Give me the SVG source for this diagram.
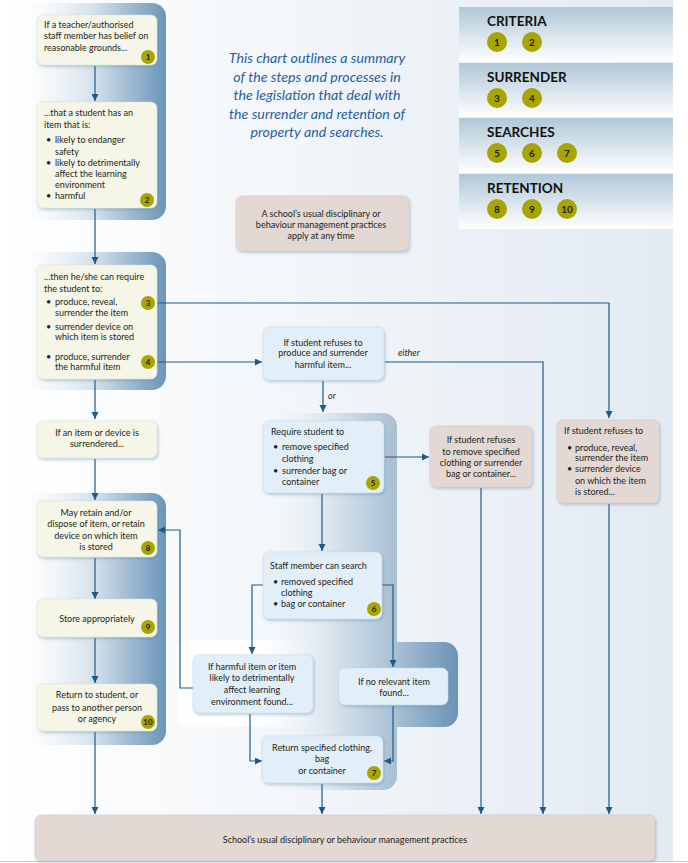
<svg xmlns="http://www.w3.org/2000/svg" width="688" height="863" viewBox="0 0 688 863">
<defs>
<linearGradient id="bg" x1="0" y1="0" x2="1" y2="0">
<stop offset="0" stop-color="#ffffff"/>
<stop offset="1" stop-color="#e2eaf2"/>
</linearGradient>
<linearGradient id="pnl" x1="0" y1="0" x2="1" y2="0">
<stop offset="0" stop-color="#ffffff" stop-opacity="0"/>
<stop offset="0.55" stop-color="#d3e0ea"/>
<stop offset="1" stop-color="#6a95b9"/>
</linearGradient>
<linearGradient id="pnlMid" gradientUnits="userSpaceOnUse" x1="250" y1="0" x2="460" y2="0">
<stop offset="0" stop-color="#ffffff" stop-opacity="0"/>
<stop offset="0.45" stop-color="#cfdde8"/>
<stop offset="0.7" stop-color="#a7bfd2"/>
<stop offset="1" stop-color="#6892b6"/>
</linearGradient>
<linearGradient id="wht" x1="0" y1="0" x2="1" y2="0">
<stop offset="0" stop-color="#ffffff"/>
<stop offset="0.6" stop-color="#ffffff"/>
<stop offset="1" stop-color="#ffffff" stop-opacity="0"/>
</linearGradient>
<linearGradient id="band" x1="0" y1="0" x2="0" y2="1">
<stop offset="0" stop-color="#b0c8d8"/>
<stop offset="1" stop-color="#ffffff"/>
</linearGradient>
<filter id="sh" x="-10%" y="-10%" width="125%" height="130%">
<feDropShadow dx="1" dy="1.5" stdDeviation="1.5" flood-color="#5f86a8" flood-opacity="0.45"/>
</filter>
<marker id="ah" markerUnits="userSpaceOnUse" markerWidth="8" markerHeight="8" refX="7" refY="3.5" orient="auto">
<path d="M0,0 L7,3.5 L0,7 z" fill="#1d5a8c"/>
</marker>
<style>
.t{font-family:Lato,"Liberation Sans",sans-serif;font-size:9px;fill:#231f20}
.c{text-anchor:middle}
.cream{fill:#f5f6e7;stroke:#dfe3d0;stroke-width:0.5;filter:url(#sh)}
.blue{fill:#e2eef8;stroke:#c9dbe9;stroke-width:0.5;filter:url(#sh)}
.beige{fill:#e3d8d3;stroke:#d3c6c0;stroke-width:0.5;filter:url(#sh)}
.bd{fill:#a8a400}
.bt{font-family:Lato,"Liberation Sans",sans-serif;font-size:8px;font-weight:bold;fill:#1f1f10;text-anchor:middle}
.lbt{font-family:Lato,"Liberation Sans",sans-serif;font-size:10px;font-weight:bold;fill:#1f1f10;text-anchor:middle}
.lt{font-family:Lato,"Liberation Sans",sans-serif;font-size:13.5px;font-weight:bold;fill:#111}
.it{font-family:Lato,"Liberation Sans",sans-serif;font-size:14.2px;font-style:italic;fill:#1f5ea3;text-anchor:middle}
.ln{fill:none;stroke:#1d5a8c;stroke-width:1.2}
</style>
</defs>

<rect x="0" y="0" width="673" height="861" fill="url(#bg)"/>
<line x1="0" y1="861.5" x2="688" y2="861.5" stroke="#c8c8c8" stroke-width="1"/>

<g id="panels">
<rect x="8" y="3" width="158" height="217" rx="14" fill="url(#pnl)"/>
<rect x="8" y="252" width="158" height="138" rx="14" fill="url(#pnl)"/>
<rect x="8" y="493" width="158" height="252" rx="14" fill="url(#pnl)"/>
<rect x="177" y="640" width="150" height="87" rx="12" fill="url(#wht)" opacity="0.9"/>
<path d="M250,413 H383 A14,14 0 0 1 397,427 V642 H444 A14,14 0 0 1 458,656 V713 A14,14 0 0 1 444,727 H397 V776 A14,14 0 0 1 383,790 H250 Z" fill="url(#pnlMid)"/>
</g>

<g id="legend">
<rect x="459" y="7" width="214" height="55" fill="url(#band)"/>
<rect x="459" y="63" width="214" height="54" fill="url(#band)"/>
<rect x="459" y="118" width="214" height="55" fill="url(#band)"/>
<rect x="459" y="174" width="214" height="55" fill="url(#band)"/>
<text class="lt" x="487" y="26">CRITERIA</text>
<text class="lt" x="487" y="82">SURRENDER</text>
<text class="lt" x="487" y="137">SEARCHES</text>
<text class="lt" x="487" y="193">RETENTION</text>
<circle class="bd" cx="497" cy="42" r="10"/><text class="lbt" x="497" y="45.5">1</text>
<circle class="bd" cx="532" cy="42" r="10"/><text class="lbt" x="532" y="45.5">2</text>
<circle class="bd" cx="497" cy="98" r="10"/><text class="lbt" x="497" y="101.5">3</text>
<circle class="bd" cx="532" cy="98" r="10"/><text class="lbt" x="532" y="101.5">4</text>
<circle class="bd" cx="497" cy="153" r="10"/><text class="lbt" x="497" y="156.5">5</text>
<circle class="bd" cx="532" cy="153" r="10"/><text class="lbt" x="532" y="156.5">6</text>
<circle class="bd" cx="567" cy="153" r="10"/><text class="lbt" x="567" y="156.5">7</text>
<circle class="bd" cx="497" cy="209" r="10"/><text class="lbt" x="497" y="212.5">8</text>
<circle class="bd" cx="532" cy="209" r="10"/><text class="lbt" x="532" y="212.5">9</text>
<circle class="bd" cx="567" cy="209" r="10"/><text class="lbt" x="567" y="212.5">10</text>
</g>

<g id="title">
<text class="it" x="317" y="63">This chart outlines a summary</text>
<text class="it" x="317" y="81.5">of the steps and processes in</text>
<text class="it" x="317" y="100">the legislation that deal with</text>
<text class="it" x="317" y="118.5">the surrender and retention of</text>
<text class="it" x="317" y="137">property and searches.</text>
</g>

<g id="connectors">
<path class="ln" d="M95,66 V101" marker-end="url(#ah)"/>
<path class="ln" d="M95,209 V264" marker-end="url(#ah)"/>
<path class="ln" d="M95,380 V419" marker-end="url(#ah)"/>
<path class="ln" d="M95,459 V500" marker-end="url(#ah)"/>
<path class="ln" d="M95,558 V599" marker-end="url(#ah)"/>
<path class="ln" d="M95,638 V683" marker-end="url(#ah)"/>
<path class="ln" d="M95,732 V814" marker-end="url(#ah)"/>
<path class="ln" d="M155,303 H609 V418" marker-end="url(#ah)"/>
<path class="ln" d="M155,362 H262" marker-end="url(#ah)"/>
<path class="ln" d="M385,362 H543 V814" marker-end="url(#ah)"/>
<path class="ln" d="M323,381 V412" marker-end="url(#ah)"/>
<path class="ln" d="M385,457 H429" marker-end="url(#ah)"/>
<path class="ln" d="M481,488 V814" marker-end="url(#ah)"/>
<path class="ln" d="M609,504 V814" marker-end="url(#ah)"/>
<path class="ln" d="M322,494 V551" marker-end="url(#ah)"/>
<path class="ln" d="M263,585 H252 V654" marker-end="url(#ah)"/>
<path class="ln" d="M382,585 H393 V667" marker-end="url(#ah)"/>
<path class="ln" d="M193,688 H180 V530 H158" marker-end="url(#ah)"/>
<path class="ln" d="M250,714 V761 H262" marker-end="url(#ah)"/>
<path class="ln" d="M393,706 V761 H384" marker-end="url(#ah)"/>
<path class="ln" d="M322,784 V814" marker-end="url(#ah)"/>
<text class="t" x="398" y="356" font-style="italic" fill="#333">either</text>
<text class="t" x="328" y="399" font-style="italic" fill="#333">or</text>
</g>

<g id="n1">
<rect class="cream" x="37" y="15" width="120" height="50" rx="6"/>
<text class="t" x="44" y="28">If a teacher/authorised</text>
<text class="t" x="44" y="39">staff member has belief on</text>
<text class="t" x="44" y="51">reasonable grounds...</text>
<circle class="bd" cx="148" cy="57" r="7"/><text class="bt" x="148" y="60">1</text>
</g>

<g id="n2">
<rect class="cream" x="37" y="102" width="120" height="106" rx="6"/>
<text class="t" x="44" y="116">...that a student has an</text>
<text class="t" x="44" y="128">item that is:</text>
<text class="t" x="46" y="143">•</text><text class="t" x="55" y="143">likely to endanger</text>
<text class="t" x="55" y="155">safety</text>
<text class="t" x="46" y="166">•</text><text class="t" x="55" y="166">likely to detrimentally</text>
<text class="t" x="55" y="177">affect the learning</text>
<text class="t" x="55" y="188">environment</text>
<text class="t" x="46" y="199">•</text><text class="t" x="55" y="199">harmful</text>
<circle class="bd" cx="147" cy="200" r="7"/><text class="bt" x="147" y="203">2</text>
</g>

<g id="n3">
<rect class="cream" x="37" y="265" width="120" height="114" rx="6"/>
<text class="t" x="44" y="280">...then he/she can require</text>
<text class="t" x="44" y="292">the student to:</text>
<text class="t" x="46" y="305">•</text><text class="t" x="55" y="305">produce, reveal,</text>
<text class="t" x="55" y="316">surrender the item</text>
<text class="t" x="46" y="330">•</text><text class="t" x="55" y="330">surrender device on</text>
<text class="t" x="55" y="340">which item is stored</text>
<text class="t" x="46" y="360">•</text><text class="t" x="55" y="360">produce, surrender</text>
<text class="t" x="55" y="370">the harmful item</text>
<circle class="bd" cx="148" cy="303" r="7"/><text class="bt" x="148" y="306">3</text>
<circle class="bd" cx="148" cy="362" r="7"/><text class="bt" x="148" y="365">4</text>
</g>

<g id="n-surrendered">
<rect class="cream" x="37" y="421" width="120" height="37" rx="6"/>
<text class="t c" x="97" y="436">If an item or device is</text>
<text class="t c" x="97" y="447">surrendered...</text>
</g>

<g id="n8">
<rect class="cream" x="37" y="501" width="120" height="56" rx="6"/>
<text class="t c" x="96" y="516">May retain and/or</text>
<text class="t c" x="96" y="527">dispose of item, or retain</text>
<text class="t c" x="96" y="539">device on which item</text>
<text class="t c" x="96" y="550">is stored</text>
<circle class="bd" cx="148" cy="548" r="7"/><text class="bt" x="148" y="551">8</text>
</g>

<g id="n9">
<rect class="cream" x="37" y="599" width="120" height="38" rx="6"/>
<text class="t c" x="97" y="622">Store appropriately</text>
<circle class="bd" cx="148" cy="627" r="7"/><text class="bt" x="148" y="630">9</text>
</g>

<g id="n10">
<rect class="cream" x="37" y="684" width="120" height="47" rx="6"/>
<text class="t c" x="97" y="698">Return to student, or</text>
<text class="t c" x="97" y="711">pass to another person</text>
<text class="t c" x="97" y="722">or agency</text>
<circle class="bd" cx="148" cy="722" r="7"/><text class="bt" x="148" y="725" font-size="7">10</text>
</g>

<g id="n-anytime">
<rect class="beige" x="236" y="196" width="173" height="55" rx="6"/>
<text class="t c" x="321" y="217">A school’s usual disciplinary or</text>
<text class="t c" x="321" y="228">behaviour management practices</text>
<text class="t c" x="321" y="239">apply at any time</text>
</g>

<g id="n-refuse-harmful">
<rect class="blue" x="263" y="327" width="121" height="53" rx="6"/>
<text class="t c" x="323" y="346">If student refuses to</text>
<text class="t c" x="323" y="356">produce and surrender</text>
<text class="t c" x="323" y="368">harmful item...</text>
</g>

<g id="n5">
<rect class="blue" x="263" y="421" width="121" height="72" rx="6"/>
<text class="t" x="271" y="435">Require student to</text>
<text class="t" x="273" y="450">•</text><text class="t" x="282" y="450">remove specified</text>
<text class="t" x="282" y="462">clothing</text>
<text class="t" x="273" y="474">•</text><text class="t" x="282" y="474">surrender bag or</text>
<text class="t" x="282" y="485">container</text>
<circle class="bd" cx="373" cy="483" r="7"/><text class="bt" x="373" y="486">5</text>
</g>

<g id="n-refuse-clothing">
<rect class="beige" x="430" y="426" width="102" height="61" rx="6"/>
<text class="t c" x="481" y="443">If student refuses</text>
<text class="t c" x="481" y="455">to remove specified</text>
<text class="t c" x="481" y="466">clothing or surrender</text>
<text class="t c" x="481" y="477">bag or container...</text>
</g>

<g id="n-refuse-produce">
<rect class="beige" x="557" y="420" width="102" height="83" rx="6"/>
<text class="t" x="564" y="434">If student refuses to</text>
<text class="t" x="567" y="451">•</text><text class="t" x="575" y="451">produce, reveal,</text>
<text class="t" x="575" y="461">surrender the item</text>
<text class="t" x="567" y="472">•</text><text class="t" x="575" y="472">surrender device</text>
<text class="t" x="575" y="484">on which the item</text>
<text class="t" x="575" y="495">is stored...</text>
</g>

<g id="n6">
<rect class="blue" x="263" y="552" width="119" height="67" rx="6"/>
<text class="t" x="270" y="569">Staff member can search</text>
<text class="t" x="273" y="585">•</text><text class="t" x="281" y="585">removed specified</text>
<text class="t" x="281" y="596">clothing</text>
<text class="t" x="273" y="607">•</text><text class="t" x="281" y="607">bag or container</text>
<circle class="bd" cx="374" cy="609" r="7"/><text class="bt" x="374" y="612">6</text>
</g>

<g id="n-found">
<rect class="blue" x="193" y="655" width="120" height="58" rx="6"/>
<text class="t c" x="252" y="670">If harmful item or item</text>
<text class="t c" x="252" y="681">likely to detrimentally</text>
<text class="t c" x="252" y="693">affect learning</text>
<text class="t c" x="252" y="705">environment found...</text>
</g>

<g id="n-notfound">
<rect class="blue" x="339" y="668" width="109" height="37" rx="6"/>
<text class="t c" x="394" y="685">If no relevant item</text>
<text class="t c" x="394" y="696">found...</text>
</g>

<g id="n7">
<rect class="blue" x="262" y="736" width="121" height="47" rx="6"/>
<text class="t c" x="322" y="751">Return specified clothing,</text>
<text class="t c" x="322" y="762">bag</text>
<text class="t c" x="322" y="774">or container</text>
<circle class="bd" cx="374" cy="773" r="7"/><text class="bt" x="374" y="776">7</text>
</g>

<g id="n-bottom">
<rect class="beige" x="35" y="815" width="620" height="46" rx="6"/>
<text class="t c" x="345" y="843" font-size="8.5">School’s usual disciplinary or behaviour management practices</text>
</g>
</svg>
